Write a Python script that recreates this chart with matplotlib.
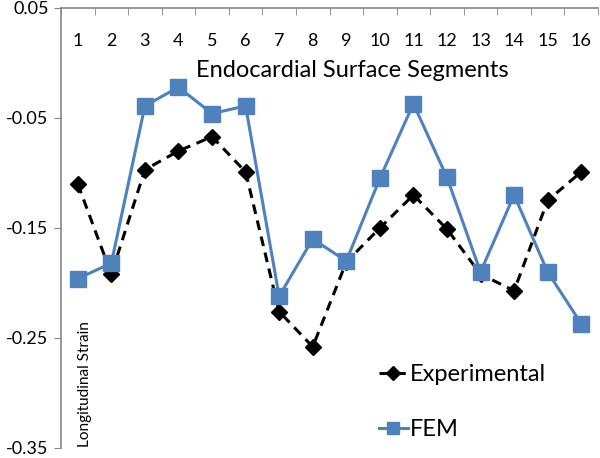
import numpy as np
import matplotlib
matplotlib.use("Agg")
from matplotlib import pyplot as plt

segments = list(range(1, 17))
experimental = [-0.110, -0.192, -0.097, -0.080, -0.067, -0.099, -0.226, -0.258,
                -0.181, -0.150, -0.120, -0.151, -0.192, -0.207, -0.125, -0.099]
fem = [-0.196, -0.182, -0.039, -0.022, -0.046, -0.039, -0.212, -0.160,
       -0.180, -0.105, -0.037, -0.104, -0.190, -0.120, -0.190, -0.237]
y_ticks = [0.05, -0.05, -0.15, -0.25, -0.35]


def main():
    plt.rcParams['font.family'] = ['Lato', 'DejaVu Sans']
    plt.rcParams['axes.unicode_minus'] = False

    fig = plt.figure(figsize=(6.0, 4.58), dpi=100)
    ax = fig.add_axes([61 / 600, 1 - 448 / 458, 537 / 600, 440 / 458])

    ax.plot(segments, experimental, color='black', linestyle=(0, (3.2, 2.2)), linewidth=2.2,
            marker='D', markersize=8.5, label='Experimental')
    ax.plot(segments, fem, color='#4F81BD', linewidth=2.2,
            marker='s', markersize=11, label='FEM')

    ax.set_xlim(0.5, 16.5)
    ax.set_ylim(-0.35, 0.05)

    ax.set_yticks(y_ticks)
    ax.set_yticklabels([f"{v:.2f}" for v in y_ticks], fontsize=13)
    ax.tick_params(axis='y', direction='out', length=5, color='#868686', pad=4)

    ax.set_xticks(segments)
    ax.set_xticklabels([str(s) for s in segments], fontsize=13)
    ax.set_xticks(np.arange(0.5, 17, 1.0), minor=True)
    ax.tick_params(axis='x', which='major', top=False, bottom=False,
                   labeltop=True, labelbottom=False, pad=-33)
    ax.tick_params(axis='x', which='minor', top=True, bottom=False,
                   direction='in', length=5, color='#868686')

    for side in ('right', 'bottom'):
        ax.spines[side].set_visible(False)
    for side in ('left', 'top'):
        ax.spines[side].set_color('#868686')
        ax.spines[side].set_linewidth(1.2)

    ax.text(0.542, 0.859, 'Endocardial Surface Segments', transform=ax.transAxes,
            ha='center', va='center', fontsize=17)
    ax.text(0.045, 0.003, 'Longitudinal Strain', transform=ax.transAxes,
            rotation=90, ha='center', va='bottom', fontsize=11)

    ax.legend(loc='upper left', bbox_to_anchor=(358 / 600, 1 - 343 / 458),
              bbox_transform=fig.transFigure, frameon=False, fontsize=17,
              handlelength=1.2, handletextpad=0.1, labelspacing=1.45,
              markerscale=0.8)

    plt.savefig('out.png', dpi=100)


if __name__ == '__main__':
    main()
